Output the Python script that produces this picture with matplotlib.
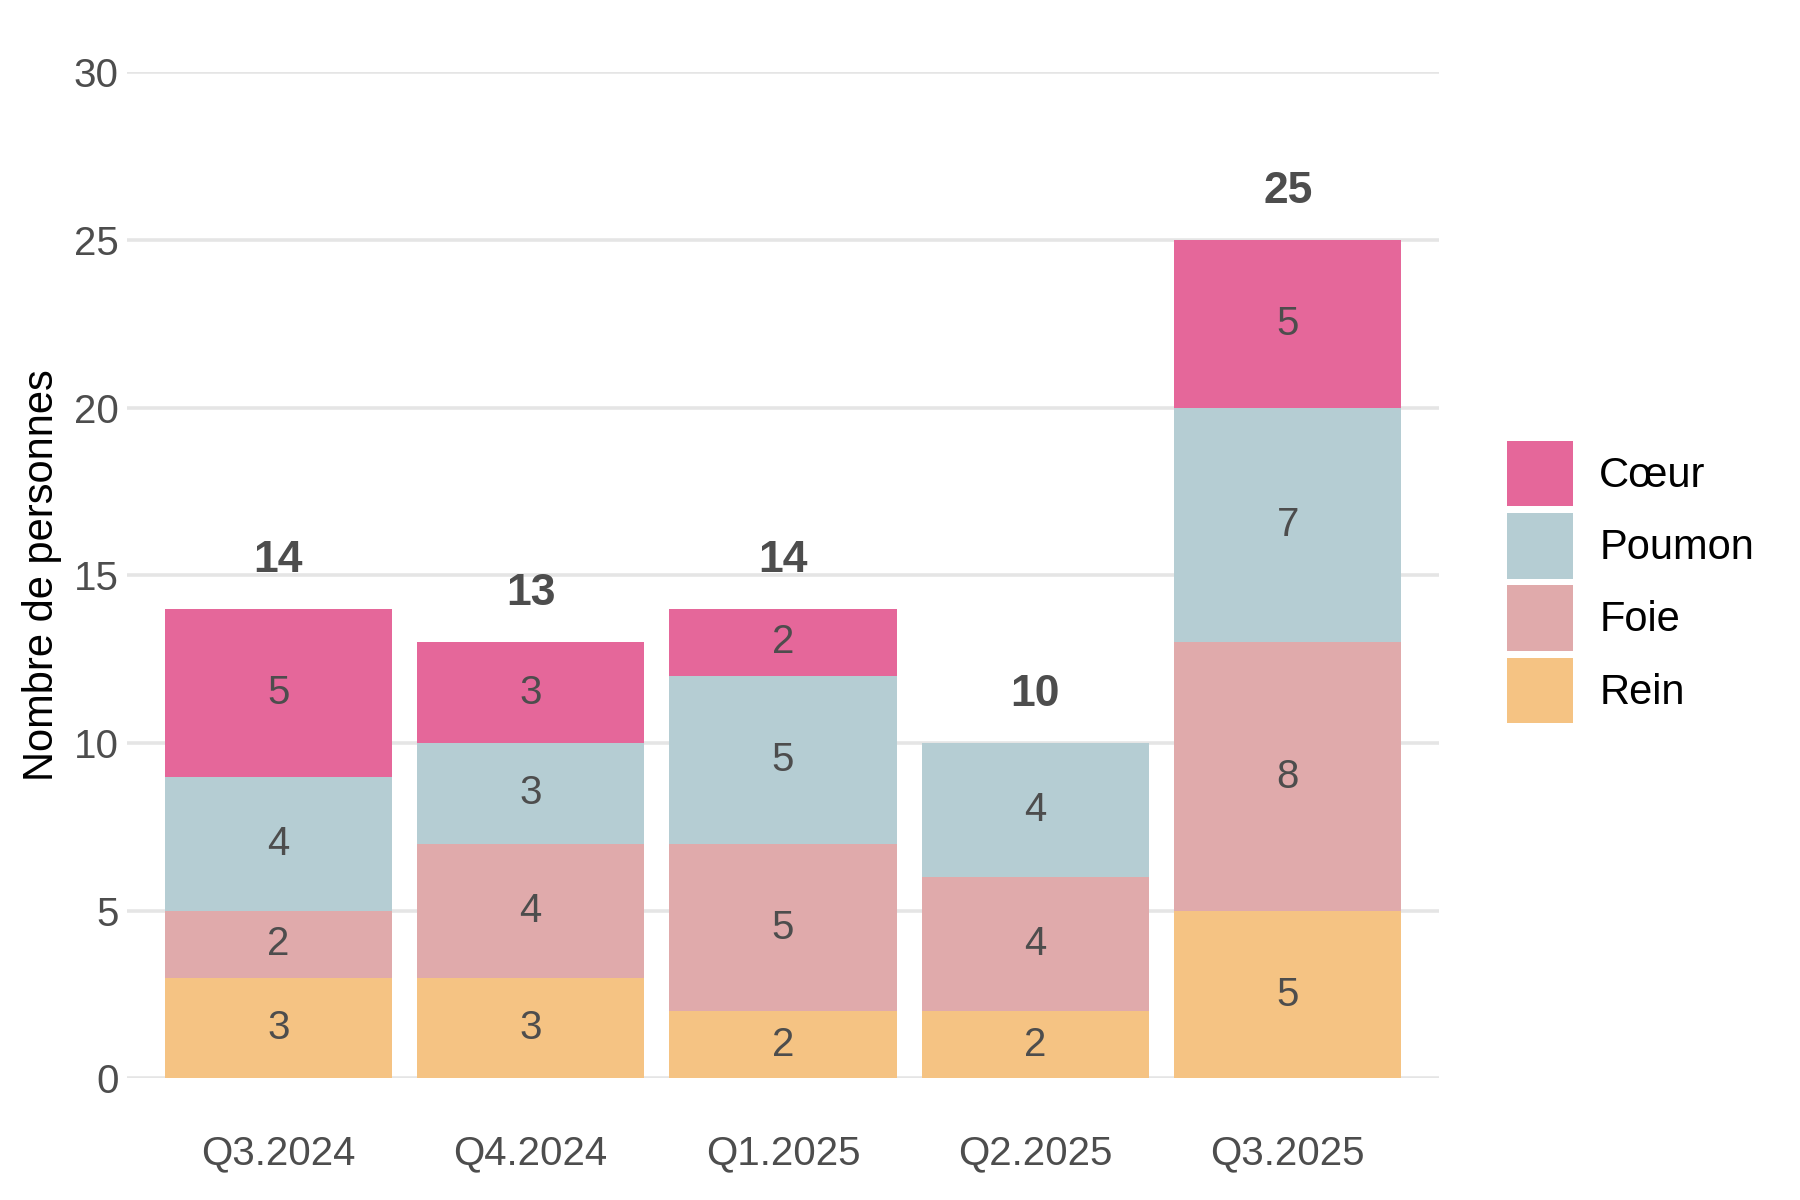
import numpy as np
import matplotlib.pyplot as plt
from matplotlib.patches import Patch

quarters = ["Q3.2024", "Q4.2024", "Q1.2025", "Q2.2025", "Q3.2025"]
rein = [3, 3, 2, 2, 5]
foie = [2, 4, 5, 4, 8]
poumon = [4, 3, 5, 4, 7]
coeur = [5, 3, 2, 0, 5]

series = [("Rein", rein, "#F5C383"),
          ("Foie", foie, "#E0AAAB"),
          ("Poumon", poumon, "#B5CDD3"),
          ("Cœur", coeur, "#E5679A")]

plt.rcParams.update({
    "font.family": ["Liberation Sans", "DejaVu Sans"],
    "font.size": 14.5,
})
txt = "#4D4D4D"

fig = plt.figure(figsize=(9, 6), dpi=200)
ax = fig.add_axes([0.0705, 0.1013, 0.729, 0.8385])

x = np.arange(len(quarters))
bottom = np.zeros(len(quarters))
for name, vals, col in series:
    vals = np.array(vals, dtype=float)
    ax.bar(x, vals, width=0.9, bottom=bottom, color=col, zorder=2)
    for xi, b, v in zip(x, bottom, vals):
        if v > 0:
            ax.text(xi, b + v / 2, f"{int(v)}", ha="center", va="center",
                    color=txt, fontsize=14.5, zorder=3)
    bottom += vals

for xi, t in zip(x, bottom):
    ax.text(xi, t + 1.45, f"{int(t)}", ha="center", va="center",
            color=txt, fontsize=16, fontweight="bold")

ax.set_xlim(-0.6, 4.6)
ax.set_ylim(0, 30)
ax.set_yticks([0, 5, 10, 15, 20, 25, 30])
ax.set_xticks(x)
ax.set_xticklabels(quarters)
ax.tick_params(axis="both", length=0, colors=txt, labelsize=14.5)
ax.tick_params(axis="x", pad=20)
ax.tick_params(axis="y", pad=3)
ax.grid(axis="y", color="#E5E5E5", linewidth=1.3, zorder=0)
ax.set_axisbelow(True)
for s in ax.spines.values():
    s.set_visible(False)
ax.set_ylabel("Nombre de personnes", fontsize=15, color="black", labelpad=4)

handles = [Patch(facecolor=col, label=name) for name, _, col in reversed(series)]
fig.legend(handles=handles, loc="center left", bbox_to_anchor=(0.8166, 0.515),
           frameon=False, fontsize=15, handlelength=1.567, handleheight=2.033,
           labelspacing=0.167, handletextpad=0.64, labelcolor="black")

fig.savefig("out.png", dpi=200, facecolor="white")
